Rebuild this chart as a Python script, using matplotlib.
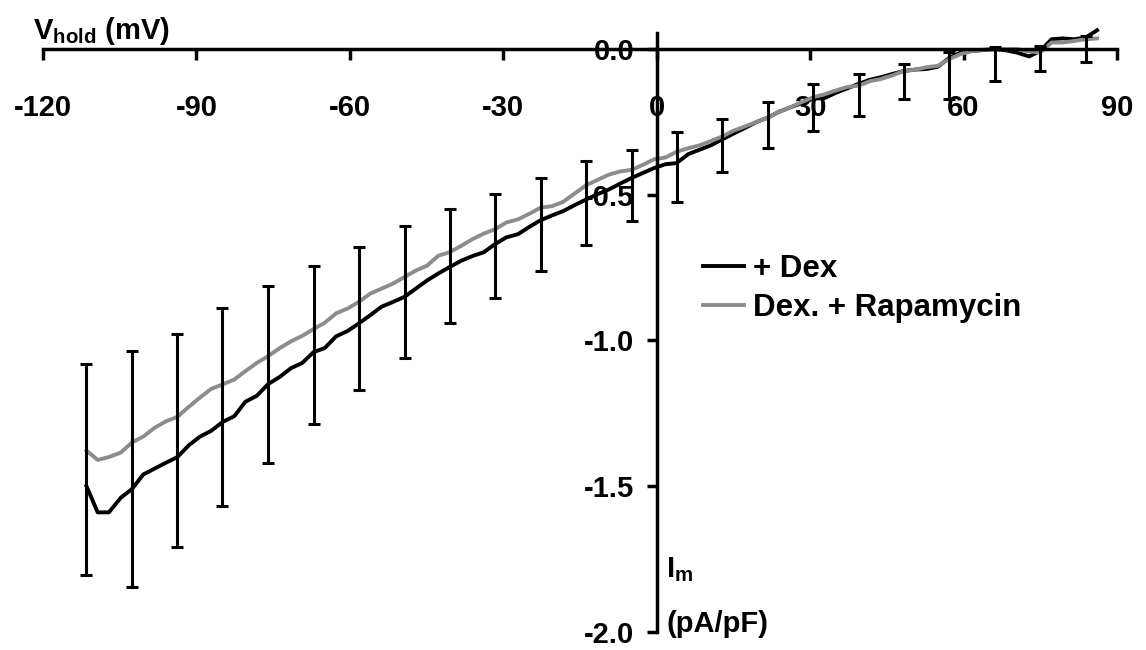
import matplotlib.pyplot as plt
import numpy as np

plt.rcParams['font.family'] = 'Liberation Sans'
plt.rcParams['font.weight'] = 'bold'
plt.rcParams['mathtext.fontset'] = 'custom'
plt.rcParams['mathtext.rm'] = 'Liberation Sans:bold'
plt.rcParams['mathtext.bf'] = 'Liberation Sans:bold'

# holding potential of the ramp (mV)
volts = [-111.5, -109.3, -107.1, -104.8, -102.6, -100.4, -98.2, -96.0, -93.7, -91.5,
         -89.3, -87.1, -84.9, -82.6, -80.4, -78.2, -76.0, -73.7, -71.5, -69.3,
         -67.1, -64.9, -62.7, -60.4, -58.2, -56.0, -53.8, -51.6, -49.3, -47.1,
         -44.9, -42.7, -40.5, -38.2, -36.0, -33.8, -31.6, -29.4, -27.1, -24.9,
         -22.7, -20.5, -18.3, -16.0, -13.8, -11.6, -9.4, -7.2, -4.9, -2.7,
         -0.5, 1.7, 3.9, 6.2, 8.4, 10.6, 12.8, 15.0, 17.3, 19.5,
         21.7, 23.9, 26.1, 28.4, 30.6, 32.8, 35.0, 37.2, 39.5, 41.7,
         43.9, 46.1, 48.3, 50.6, 52.8, 55.0, 57.2, 59.4, 61.7, 63.9,
         66.1, 68.3, 70.5, 72.8, 75.0, 77.2, 79.4, 81.6, 83.9, 86.1]

# mean current density (pA/pF)
dex = [-1.50, -1.59, -1.59, -1.54, -1.51, -1.46, -1.44, -1.42, -1.40, -1.36,
       -1.33, -1.31, -1.28, -1.26, -1.21, -1.19, -1.15, -1.125, -1.095, -1.077,
       -1.04, -1.026, -0.986, -0.967, -0.941, -0.913, -0.884, -0.868, -0.850, -0.822,
       -0.794, -0.770, -0.748, -0.726, -0.710, -0.697, -0.669, -0.646, -0.635, -0.610,
       -0.587, -0.571, -0.556, -0.535, -0.516, -0.498, -0.482, -0.462, -0.442, -0.425,
       -0.408, -0.395, -0.391, -0.360, -0.345, -0.330, -0.310, -0.290, -0.270, -0.250,
       -0.235, -0.215, -0.200, -0.185, -0.170, -0.168, -0.150, -0.135, -0.119, -0.105,
       -0.096, -0.085, -0.075, -0.070, -0.068, -0.060, -0.030, -0.012, -0.006, -0.003,
       0.000, -0.004, -0.012, -0.025, -0.006, 0.034, 0.037, 0.034, 0.040, 0.065]

dex_rapa = [-1.378, -1.41, -1.40, -1.385, -1.35, -1.33, -1.30, -1.278, -1.262, -1.228,
            -1.196, -1.166, -1.151, -1.134, -1.105, -1.077, -1.054, -1.026, -1.003, -0.984,
            -0.961, -0.939, -0.907, -0.890, -0.867, -0.839, -0.822, -0.805, -0.782, -0.760,
            -0.743, -0.709, -0.697, -0.675, -0.652, -0.633, -0.618, -0.595, -0.584, -0.565,
            -0.544, -0.539, -0.524, -0.495, -0.467, -0.449, -0.431, -0.420, -0.414, -0.397,
            -0.378, -0.372, -0.352, -0.340, -0.330, -0.315, -0.300, -0.280, -0.265, -0.250,
            -0.235, -0.215, -0.200, -0.181, -0.165, -0.155, -0.142, -0.130, -0.125, -0.110,
            -0.102, -0.090, -0.075, -0.070, -0.062, -0.057, -0.034, -0.017, -0.006, -0.002,
            0.000, 0.000, 0.000, -0.008, -0.011, 0.023, 0.023, 0.028, 0.034, 0.037]

# SEM, shown every 4th sweep point: downward for +Dex, upward for Dex + Rapamycin
sem_dex = [0.306, 0.336, 0.309, 0.287, 0.270, 0.247, 0.229, 0.210, 0.193, 0.186, 0.175, 0.156,
           0.148, 0.133, 0.110, 0.105, 0.110, 0.110, 0.095, 0.140, 0.110, 0.068, 0.085]
sem_rapa = [0.298, 0.313, 0.284, 0.261, 0.240, 0.218, 0.187, 0.175, 0.149, 0.122, 0.102, 0.084,
            0.068, 0.069, 0.060, 0.055, 0.045, 0.040, 0.025, 0.024, 0.008, 0.022, 0.011]

xticks = [-120, -90, -60, -30, 0, 30, 60, 90]
yticks = [-2.0, -1.5, -1.0, -0.5, 0.0]

fig = plt.figure(figsize=(11.46, 6.5), dpi=100)
ax = fig.add_axes([0.0375, 0.028, 0.9372, 0.921])

v = np.array(volts)
i_dex = np.array(dex)
i_rapa = np.array(dex_rapa)

l1, = ax.plot(v, i_dex, color='black', lw=2.8, label='+ Dex', clip_on=False, zorder=3)
l2, = ax.plot(v, i_rapa, color='#8c8c8c', lw=2.8, label='Dex. + Rapamycin', clip_on=False, zorder=3)

# error bars: one stem from the upper SEM of the grey trace to the lower SEM of the black one
ve = v[::4]
top = i_rapa[::4] + np.array(sem_rapa)
bot = i_dex[::4] - np.array(sem_dex)
ax.vlines(ve, bot, top, color='black', lw=2.2, zorder=4, clip_on=False)
ax.plot(ve, top, ls='none', marker='_', ms=8, mew=2.2, color='black', zorder=4, clip_on=False)
ax.plot(ve, bot, ls='none', marker='_', ms=8, mew=2.2, color='black', zorder=4, clip_on=False)

ax.set_xlim(-120, 90)
ax.set_ylim(-2.0, 0.055)
ax.spines['left'].set_position(('data', 0))
ax.spines['bottom'].set_position(('data', 0))
ax.spines['top'].set_visible(False)
ax.spines['right'].set_visible(False)
for s in ['left', 'bottom']:
    ax.spines[s].set_linewidth(2.5)
    ax.spines[s].set_zorder(5)

ax.set_xticks(xticks)
ax.set_xticklabels([str(t) for t in xticks])
ax.set_yticks(yticks)
ax.set_yticklabels(['%.1f' % t for t in yticks])
ax.tick_params(axis='x', direction='out', length=8, width=2.5, pad=24, labelsize=21)
ax.tick_params(axis='y', direction='out', length=7, width=2.5, pad=9, labelsize=21)
for lab in ax.get_xticklabels():
    lab.set_fontweight('bold')
for lab in ax.get_yticklabels():
    lab.set_fontweight('bold')
    lab.set_verticalalignment('center_baseline')

fig.text(33 / 1146, 1 - 31 / 650, r'$\mathbf{V}_{\mathbf{hold}}$ (mV)', fontsize=21,
         fontweight='bold', ha='left', va='center')
fig.text(666 / 1146, 1 - 570 / 650, r'$\mathbf{I}_{\mathbf{m}}$', fontsize=21,
         fontweight='bold', ha='left', va='center')
fig.text(666 / 1146, 1 - 624 / 650, '(pA/pF)', fontsize=21, fontweight='bold',
         ha='left', va='center')

ax.legend(handles=[l1, l2], loc='upper left', bbox_to_anchor=(703 / 1146, 1 - 254 / 650),
          bbox_transform=fig.transFigure, frameon=False, handlelength=1.3,
          handletextpad=0.3, labelspacing=0.3, borderpad=0, borderaxespad=0,
          prop={'weight': 'bold', 'size': 22.5})

fig.savefig('out.png', dpi=100)
